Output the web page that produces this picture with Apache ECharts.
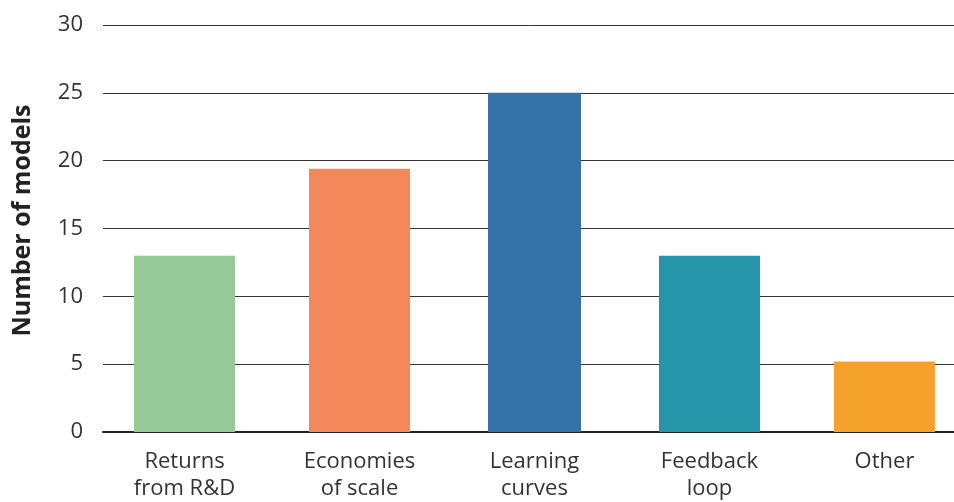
<!DOCTYPE html>
<html><head><meta charset="utf-8">
<script src="https://cdn.jsdelivr.net/npm/echarts@6/dist/echarts.min.js"></script>
<style>html,body{margin:0;padding:0;background:#fff}#c{width:954px;height:502px}</style>
</head><body><div id="c"></div>
<script>
const categories = ["Returns\nfrom R&D", "Economies\nof scale", "Learning\ncurves", "Feedback\nloop", "Other"];
const values = [13, 19.4, 25, 13, 5.2];
const colors = ["#95C997", "#F3885B", "#3572AA", "#2596A9", "#F5A22D"];
const yTicks = { min: 0, max: 30, interval: 5 };
const yTitle = "Number of models";

const font = "'Open Sans', sans-serif";
const narrowIdx = 2;
const chart = echarts.init(document.getElementById('c'));
chart.setOption({
  animation: false,
  grid: [
    { left: 97, top: 25, width: 875, bottom: 70, outerBoundsMode: 'none', containLabel: false },
    { left: 103, top: 25, right: 0, bottom: 70, outerBoundsMode: 'none', containLabel: false }
  ],
  xAxis: [
    { type: 'category', gridIndex: 0, data: categories,
      axisLine: { show: false }, axisTick: { show: false },
      axisLabel: { color: '#333', fontSize: 22, fontFamily: font, lineHeight: 27, margin: 16 } },
    { type: 'value', gridIndex: 1, min: 0, max: 1,
      axisLine: { show: true, onZero: false, lineStyle: { color: '#222', width: 2 } },
      axisTick: { show: false }, axisLabel: { show: false }, splitLine: { show: false } },
    { type: 'category', gridIndex: 0, data: categories, show: false }
  ],
  yAxis: [
    { type: 'value', gridIndex: 0, min: yTicks.min, max: yTicks.max, interval: yTicks.interval,
      show: false, splitLine: { show: false } },
    { type: 'value', gridIndex: 1, min: yTicks.min, max: yTicks.max, interval: yTicks.interval,
      axisLine: { show: false }, axisTick: { show: false },
      axisLabel: { color: '#333', fontSize: 22, fontFamily: font, margin: 20 },
      splitLine: { show: true, lineStyle: { color: '#333', width: 1 } },
      name: yTitle, nameLocation: 'middle', nameRotate: 90, nameGap: 68,
      nameTextStyle: { color: '#222', fontSize: 25, fontWeight: 'bold', fontFamily: font, padding: [0, 0, 0, 16] } }
  ],
  series: [{
    type: 'bar', xAxisIndex: 0, yAxisIndex: 0,
    data: values.map((v, i) => i === narrowIdx ? null : ({ value: v, itemStyle: { color: colors[i] } })),
    barWidth: 101, z: 3
  }, {
    type: 'bar', xAxisIndex: 2, yAxisIndex: 0,
    data: values.map((v, i) => i === narrowIdx ? ({ value: v, itemStyle: { color: colors[i] } }) : null),
    barWidth: 93, z: 3
  }]
});
</script></body></html>
